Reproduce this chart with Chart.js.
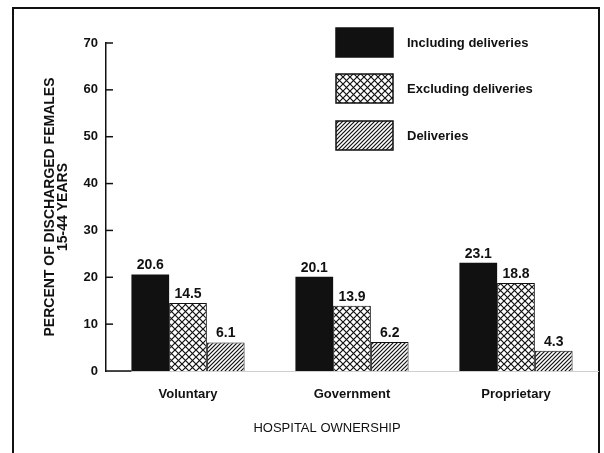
<!DOCTYPE html>
<html>
<head>
<meta charset="utf-8">
<script src="https://cdn.jsdelivr.net/npm/chart.js@4.4.1/dist/chart.umd.min.js"></script>
<style>
  body { margin: 0; background: #fff; }
  #wrap { position: relative; width: 604px; height: 453px; overflow: hidden; }
  #frame { position: absolute; left: 12px; top: 7px; width: 584px; height: 470px; border: 2px solid #111; }
  canvas { position: absolute; left: 0; top: 0; }
</style>
</head>
<body>
<div id="wrap">
  <div id="frame"></div>
  <canvas id="chart" width="604" height="453"></canvas>
</div>
<script>
const categories = ['Voluntary', 'Government', 'Proprietary'];
const seriesNames = ['Including deliveries', 'Excluding deliveries', 'Deliveries'];
const including = [20.6, 20.1, 23.1];
const excluding = [14.5, 13.9, 18.8];
const deliveries = [6.1, 6.2, 4.3];
const yMin = 0;
const yMax = 70;
const yStep = 10;
const yTitle = ['PERCENT OF DISCHARGED FEMALES', '15-44 YEARS'];
const xTitle = 'HOSPITAL OWNERSHIP';

const FONT = "'Liberation Sans', Arial, Helvetica, sans-serif";

const makePattern = (size, draw) => {
  const c = document.createElement('canvas');
  c.width = size;
  c.height = size;
  const p = c.getContext('2d');
  p.fillStyle = '#fff';
  p.fillRect(0, 0, size, size);
  p.strokeStyle = '#111';
  p.lineWidth = 1.2;
  draw(p, size);
  return p.createPattern(c, 'repeat');
};

const crossHatch = makePattern(7, (p, s) => {
  p.beginPath();
  p.moveTo(0, 0); p.lineTo(s, s);
  p.moveTo(0, s); p.lineTo(s, 0);
  p.stroke();
});

const diagHatch = makePattern(4, (p, s) => {
  p.beginPath();
  p.moveTo(0, s); p.lineTo(s, 0);
  p.moveTo(-1, 1); p.lineTo(1, -1);
  p.moveTo(s - 1, s + 1); p.lineTo(s + 1, s - 1);
  p.stroke();
});

const fills = ['#111', crossHatch, diagHatch];

// value labels above bars
const valueLabels = {
  id: 'valueLabels',
  afterDatasetsDraw: (chart) => {
    const { ctx } = chart;
    ctx.save();
    ctx.fillStyle = '#111';
    ctx.font = `bold 14px ${FONT}`;
    ctx.textAlign = 'center';
    ctx.textBaseline = 'bottom';
    chart.data.datasets.forEach((ds, i) => {
      chart.getDatasetMeta(i).data.forEach((bar, j) => {
        ctx.fillText(ds.data[j].toFixed(1), bar.x, bar.y - 2);
      });
    });
    ctx.restore();
  },
};

// short ticks drawn inside the y axis, legend and x title
const extras = {
  id: 'extras',
  afterDraw: (chart) => {
    const { ctx, chartArea } = chart;
    const y = chart.scales.y;
    ctx.save();
    ctx.strokeStyle = '#111';
    ctx.lineWidth = 1.5;
    y.ticks.forEach((t) => {
      if (t.value === yMin) return;
      const py = y.getPixelForValue(t.value);
      ctx.beginPath();
      ctx.moveTo(chartArea.left, py);
      ctx.lineTo(chartArea.left + 7, py);
      ctx.stroke();
    });

    // solid baseline from the axis to the first bar
    const firstBar = chart.getDatasetMeta(0).data[0];
    ctx.beginPath();
    ctx.moveTo(chartArea.left, chartArea.bottom);
    ctx.lineTo(firstBar.x - firstBar.width / 2, chartArea.bottom);
    ctx.stroke();

    // legend
    const boxes = [28, 74, 121];
    ctx.font = `bold 13px ${FONT}`;
    ctx.textBaseline = 'middle';
    ctx.textAlign = 'left';
    seriesNames.forEach((name, i) => {
      const top = boxes[i];
      ctx.fillStyle = fills[i];
      ctx.fillRect(336, top, 57, 29);
      ctx.lineWidth = 1.5;
      ctx.strokeRect(336, top, 57, 29);
      ctx.fillStyle = '#111';
      ctx.fillText(name, 407, top + 15);
    });

    ctx.font = `13px ${FONT}`;
    ctx.textAlign = 'center';
    ctx.fillText(xTitle, chartArea.left + 221, 428);
    ctx.restore();
  },
};

const ctx = document.getElementById('chart').getContext('2d');

new Chart(ctx, {
  type: 'bar',
  data: {
    labels: categories,
    datasets: [including, excluding, deliveries].map((values, i) => ({
      label: seriesNames[i],
      data: values,
      backgroundColor: fills[i],
      borderColor: '#111',
      borderWidth: i === 0 ? 0 : 1,
      barPercentage: 1,
      categoryPercentage: 0.69,
    })),
  },
  options: {
    responsive: false,
    animation: false,
    devicePixelRatio: 1,
    layout: { padding: { left: 0, right: 6, top: 43, bottom: 0 } },
    plugins: {
      legend: { display: false },
      tooltip: { enabled: false },
    },
    scales: {
      x: {
        afterFit: (scale) => { scale.height = 82; },
        grid: { display: false, drawTicks: false },
        border: { display: true, color: '#cfcfcf', width: 1 },
        ticks: {
          color: '#111',
          padding: 16,
          font: { family: FONT, size: 13, weight: 'bold' },
        },
      },
      y: {
        min: yMin,
        max: yMax,
        afterFit: (scale) => { scale.width = 106; },
        grid: { display: false, drawTicks: false },
        border: { display: true, color: '#111', width: 1.5 },
        ticks: {
          stepSize: yStep,
          color: '#111',
          padding: 8,
          font: { family: FONT, size: 13, weight: 'bold' },
        },
        title: {
          display: true,
          text: yTitle,
          color: '#111',
          padding: { top: 44, bottom: 0 },
          font: { family: FONT, size: 14, weight: 'bold', lineHeight: 0.9 },
        },
      },
    },
  },
  plugins: [valueLabels, extras],
});
</script>
</body>
</html>
